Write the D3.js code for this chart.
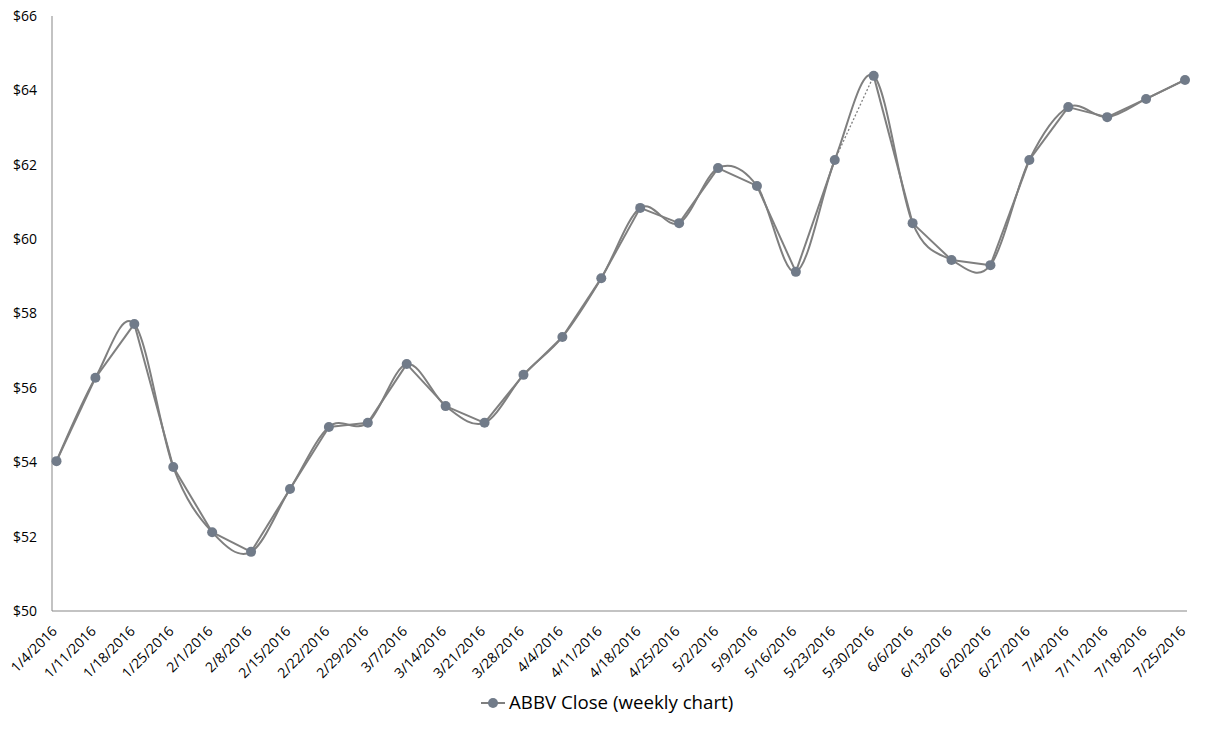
<!DOCTYPE html>
<html><head><meta charset="utf-8">
<script src="https://cdn.jsdelivr.net/npm/d3@7"></script>
<style>body{margin:0;background:#fff}svg{display:block}</style>
</head><body><svg id="c" width="1212" height="729"></svg>
<script>
const categories = ["1/4/2016","1/11/2016","1/18/2016","1/25/2016","2/1/2016","2/8/2016","2/15/2016","2/22/2016","2/29/2016","3/7/2016","3/14/2016","3/21/2016","3/28/2016","4/4/2016","4/11/2016","4/18/2016","4/25/2016","5/2/2016","5/9/2016","5/16/2016","5/23/2016","5/30/2016","6/6/2016","6/13/2016","6/20/2016","6/27/2016","7/4/2016","7/11/2016","7/18/2016","7/25/2016"];
const closeValues = [54.03,56.27,57.72,53.87,52.12,51.59,53.28,54.95,55.06,56.64,55.51,55.06,56.35,57.37,58.95,60.84,60.43,61.91,61.43,59.12,62.13,64.39,60.43,59.44,59.30,62.13,63.55,63.28,63.77,64.28];
const yTicks = [50,52,54,56,58,60,62,64,66];
const dottedSegmentStart = "5/23/2016";
const seriesName = "ABBV Close (weekly chart)";

const svg = d3.select("#c");
const font = "'Open Sans', sans-serif";
const lineColor = "#7f7f7f", markerColor = "#717b89", axisColor = "#878787";

const x = d3.scalePoint().domain(categories).range([56.5, 1185]);
const y = d3.scaleLinear().domain([50,66]).range([611, 16]);

// axes
const yAxis = svg.append("g").attr("transform","translate(52,0)")
  .call(d3.axisLeft(y).tickValues(yTicks).tickSize(0).tickPadding(15).tickFormat(d=>"$"+d));
yAxis.select(".domain").attr("stroke",axisColor).attr("d","M0,16V611");
yAxis.selectAll("text").attr("font-family",font).attr("font-size","14px").attr("fill","#000");

const xAxis = svg.append("g").attr("transform","translate(0,611)")
  .call(d3.axisBottom(x).tickSize(0).tickPadding(0));
xAxis.select(".domain").attr("stroke",axisColor).attr("d","M52,0H1187");
xAxis.selectAll("text").attr("font-family",font).attr("font-size","14px").attr("fill","#000")
  .attr("text-anchor","end").attr("dy",null).attr("y",0)
  .attr("transform","translate(1,21) rotate(-45)");

const data = categories.map((c,i)=>({c, v: closeValues[i]}));

// smoothed line
svg.append("path").datum(data)
  .attr("fill","none").attr("stroke",lineColor).attr("stroke-width",2)
  .attr("d", d3.line().x(d=>x(d.c)).y(d=>y(d.v)).curve(d3.curveCatmullRom.alpha(0)));

// straight line segments
const segs = d3.pairs(data);
svg.append("g").selectAll("line").data(segs).join("line")
  .attr("x1",d=>x(d[0].c)).attr("y1",d=>y(d[0].v))
  .attr("x2",d=>x(d[1].c)).attr("y2",d=>y(d[1].v))
  .attr("stroke",lineColor)
  .attr("stroke-width",d=>d[0].c===dottedSegmentStart?1.3:2)
  .attr("stroke-dasharray",d=>d[0].c===dottedSegmentStart?"2,2":null);

// markers
svg.append("g").selectAll("circle").data(data).join("circle")
  .attr("cx",d=>x(d.c)).attr("cy",d=>y(d.v)).attr("r",5)
  .attr("fill",markerColor);

// legend
const lg = svg.append("g");
lg.append("line").attr("x1",481).attr("x2",505).attr("y1",703).attr("y2",703)
  .attr("stroke",lineColor).attr("stroke-width",2);
lg.append("circle").attr("cx",493).attr("cy",703).attr("r",5).attr("fill",markerColor);
lg.append("text").attr("x",509).attr("y",709).attr("font-family",font).attr("font-size","18.7px")
  .attr("fill","#000").text(seriesName);
</script></body></html>
